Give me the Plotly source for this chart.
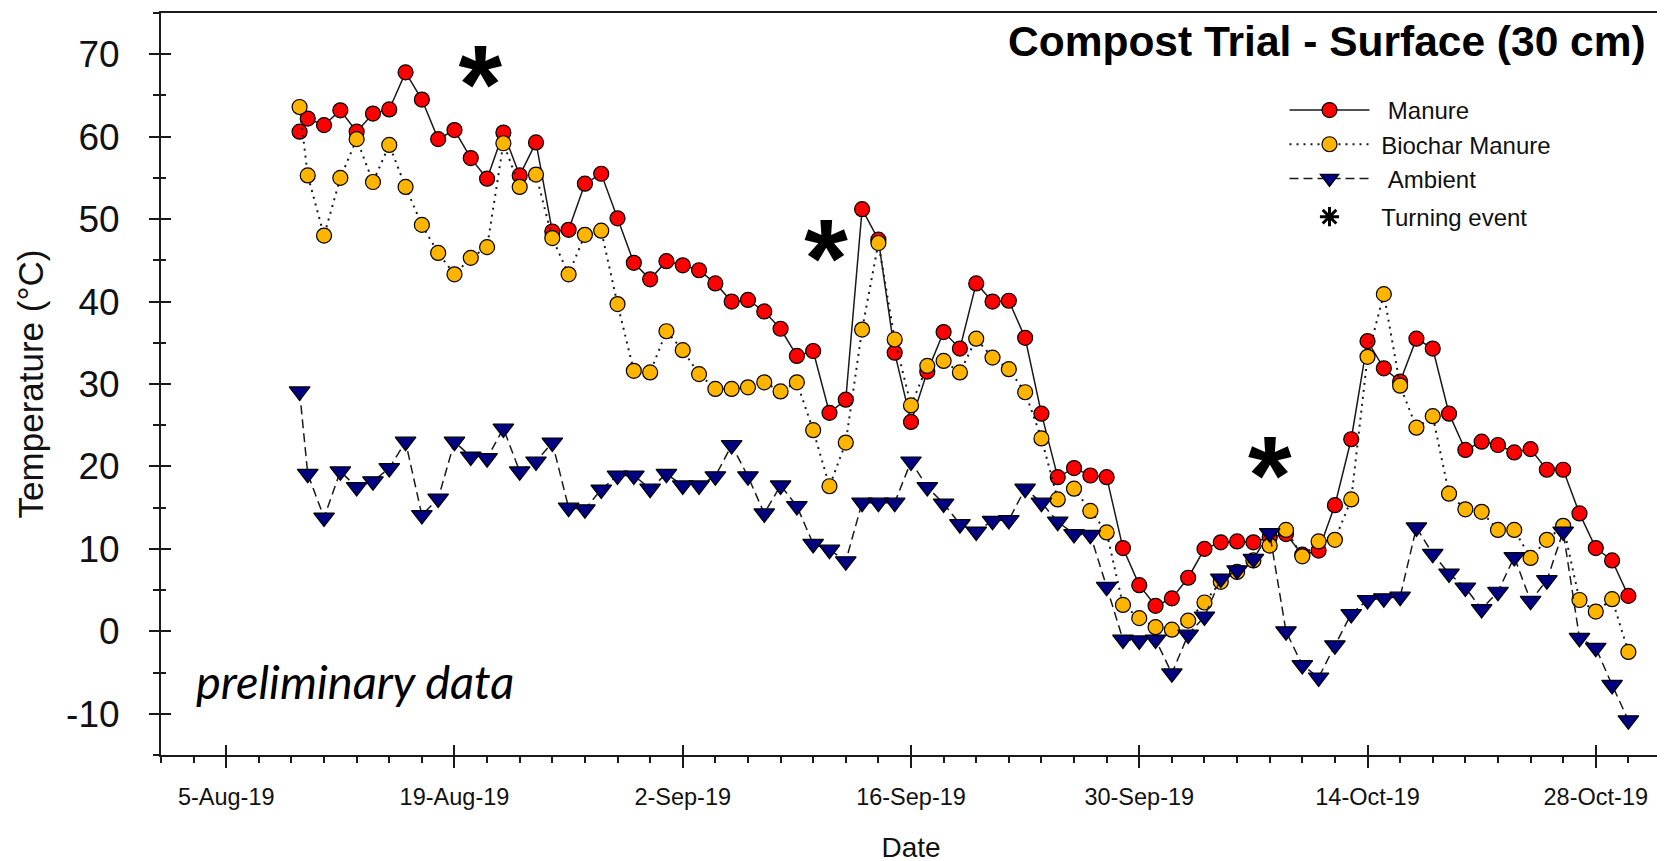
import pandas as pd
import plotly.graph_objects as go

# first reading was taken at midday on 9 Aug, then one reading a day
dates = [pd.Timestamp("2019-08-09 12:00")] + list(pd.date_range("2019-08-10", "2019-10-30", freq="D"))

# temperatures (deg C)
manure = [
    60.6,
    62.2, 61.4, 63.2, 60.6, 62.8, 63.3, 67.8, 64.5, 59.7, 60.8,
    57.4, 54.9, 60.5, 55.3, 59.3, 48.5, 48.7, 54.3, 55.5, 50.1,
    44.7, 42.7,
    44.9, 44.4, 43.8, 42.2, 40.0, 40.2, 38.8, 36.7, 33.4, 34.0,
    26.5, 28.1, 51.2, 47.5, 33.8, 25.4, 31.5, 36.3, 34.3, 42.2,
    40.0, 40.1, 35.6, 26.4, 18.7, 19.8, 18.9, 18.7, 10.1, 5.6,
    3.1, 4.0, 6.5, 10.0, 10.8, 10.9, 10.8, 11.4, 11.8, 9.3,
    9.8, 15.3, 23.3, 35.2, 31.9, 30.3, 35.5, 34.3, 26.4, 22.0,
    23.0, 22.6, 21.7, 22.1, 19.6, 19.6, 14.3, 10.1, 8.6, 4.3,
]
biochar_manure = [
    63.6,
    55.3, 48.0, 55.0, 59.7, 54.5, 59.0, 53.9, 49.3, 45.9, 43.3,
    45.3, 46.6, 59.2, 53.9, 55.4, 47.7, 43.3, 48.1, 48.6, 39.7,
    31.6, 31.4,
    36.4, 34.1, 31.2, 29.4, 29.4, 29.6, 30.2, 29.1, 30.2, 24.4,
    17.6, 22.9, 36.6, 47.1, 35.4, 27.4, 32.2, 32.8, 31.4, 35.5,
    33.2, 31.8, 29.0, 23.4, 16.0, 17.3, 14.6, 12.0, 3.2, 1.6,
    0.5, 0.2, 1.3, 3.5, 6.0, 7.2, 8.6, 10.4, 12.3, 9.1,
    10.9, 11.1, 16.0, 33.3, 40.9, 29.8, 24.7, 26.1, 16.7, 14.8,
    14.5, 12.3, 12.3, 8.9, 11.1, 12.8, 3.8, 2.4, 3.9, -2.5,
]
ambient = [
    29.1,
    19.1, 13.8, 19.4, 17.5, 18.2, 19.8, 23.0, 14.1, 16.1, 23.0,
    21.2, 21.0, 24.6, 19.4, 20.6, 22.9, 15.0, 14.8, 17.2, 18.9,
    18.9, 17.3,
    19.1, 17.7, 17.7, 18.8, 22.6, 18.8, 14.3, 17.7, 15.2, 10.6,
    9.9, 8.5, 15.6, 15.6, 15.6, 20.6, 17.5, 15.5, 13.0, 12.1,
    13.4, 13.5, 17.3, 15.6, 13.3, 11.8, 11.7, 5.4, -1.0, -1.1,
    -1.0, -5.1, -0.4, 1.8, 6.4, 7.4, 8.8, 11.9, 0.0, -4.1,
    -5.6, -1.7, 2.1, 3.8, 4.0, 4.2, 12.6, 9.4, 7.0, 5.3,
    2.7, 4.8, 9.0, 3.7, 6.2, 12.1, -0.8, -2.0, -6.5, -10.8,
]

# compost turning events and the height the marker is drawn at
turning_dates = ["2019-08-20 14:00", "2019-09-10 19:00", "2019-10-08 00:00"]
turning_y = [65.1, 43.9, 17.6]

y_ticks = [-10, 0, 10, 20, 30, 40, 50, 60, 70]

FONT = "Liberation Sans, Arial, sans-serif"
INK = "#1a1a1a"
DAY = 86400000
x_range = ["2019-08-01", "2019-11-01"]
y_range = [-15, 75]

fig = go.Figure()

fig.add_trace(go.Scatter(x=dates, y=manure, name="\u00a0\u00a0Manure",
                         mode="lines+markers", legendgroup="series",
                         line=dict(color=INK, width=1.5),
                         marker=dict(symbol="circle", size=15, color="#ff0000",
                                     line=dict(color="#000000", width=1.2))))

fig.add_trace(go.Scatter(x=dates, y=biochar_manure, name="\u00a0Biochar Manure",
                         mode="lines+markers", legendgroup="series",
                         line=dict(color=INK, width=2, dash="2px,5px"),
                         marker=dict(symbol="circle", size=15, color="#ffb400",
                                     line=dict(color="#000000", width=1.2))))

fig.add_trace(go.Scatter(x=dates, y=ambient, name="\u00a0\u00a0Ambient",
                         mode="lines+markers", legendgroup="series",
                         line=dict(color=INK, width=1.5, dash="9px,5px"),
                         marker=dict(symbol="triangle-down", size=18, color="#000080",
                                     line=dict(color="#000000", width=1.2))))

# turning events drawn as big asterisks
fig.add_trace(go.Scatter(x=turning_dates, y=turning_y, mode="text",
                         text=["*"] * len(turning_dates), showlegend=False,
                         hoverinfo="skip",
                         textfont=dict(family=FONT, size=112, color="#000000", weight="bold")))

# legend entry only (sits on the overlay axes that draw the inner tick halves)
fig.add_trace(go.Scatter(x=[None], y=[None], mode="markers", name="\u00a0Turning event",
                         legendgroup="events", xaxis="x2", yaxis="y2",
                         marker=dict(symbol="asterisk-open", size=16, color="#000000",
                                     line=dict(color="#000000", width=3))))

axis_common = dict(showgrid=False, zeroline=False, tickcolor=INK, tickwidth=2)

fig.update_layout(
    width=1665, height=861,
    margin=dict(l=153, r=12, t=3, b=114),
    paper_bgcolor="white", plot_bgcolor="white",
    font=dict(family=FONT, color="#111111"),
    xaxis=dict(type="date", range=x_range, tick0="2019-08-05", dtick=14 * DAY,
               tickformat="%-d-%b-%y", ticks="outside", ticklen=11,
               showline=True, linewidth=2, linecolor=INK, mirror=True,
               tickfont=dict(size=23.5), ticklabelstandoff=9,
               title=dict(text="Date", font=dict(size=28), standoff=28),
               minor=dict(dtick=2 * DAY, tick0="2019-08-05", ticks="outside",
                          ticklen=6, tickwidth=1.5, tickcolor=INK),
               **axis_common),
    yaxis=dict(range=y_range, tickmode="array", tickvals=y_ticks,
               ticktext=[str(v) for v in y_ticks], ticks="outside", ticklen=10,
               showline=True, linewidth=2, linecolor=INK, mirror=True,
               tickfont=dict(size=37), ticklabelstandoff=22,
               title=dict(text="Temperature (°C)", font=dict(size=35), standoff=12),
               minor=dict(dtick=5, tick0=0, ticks="outside", ticklen=6, tickwidth=1.5,
                          tickcolor=INK),
               **axis_common),
    xaxis2=dict(type="date", range=x_range, overlaying="x", anchor="y2",
                tick0="2019-08-05", dtick=14 * DAY, ticks="inside", ticklen=10,
                showticklabels=False, showline=False, **axis_common),
    yaxis2=dict(range=y_range, overlaying="y", anchor="x2", tick0=0, dtick=10,
                ticks="inside", ticklen=10, showticklabels=False, showline=False,
                minor=dict(dtick=5, ticks="inside", ticklen=5, tickwidth=1.5,
                           tickcolor=INK),
                **axis_common),
    legend=dict(x=0.749, y=0.899, xanchor="left", yanchor="top",
                bgcolor="rgba(0,0,0,0)", font=dict(size=24, color="#111111"),
                traceorder="grouped", tracegroupgap=4, itemwidth=80),
    annotations=[
        dict(text="<b>Compost Trial - Surface (30 cm)</b>", xref="paper", yref="paper",
             x=1, y=0.962, xanchor="right", yanchor="middle", xshift=-13,
             showarrow=False, font=dict(size=42.5, color="#000000")),
        dict(text="<i>preliminary data</i>", xref="paper", yref="paper",
             x=0.022, y=0.1, xanchor="left", yanchor="middle", showarrow=False,
             font=dict(family="Lato, Noto Sans, sans-serif", size=47, color="#000000")),
    ],
)

fig.write_html("out.html")
